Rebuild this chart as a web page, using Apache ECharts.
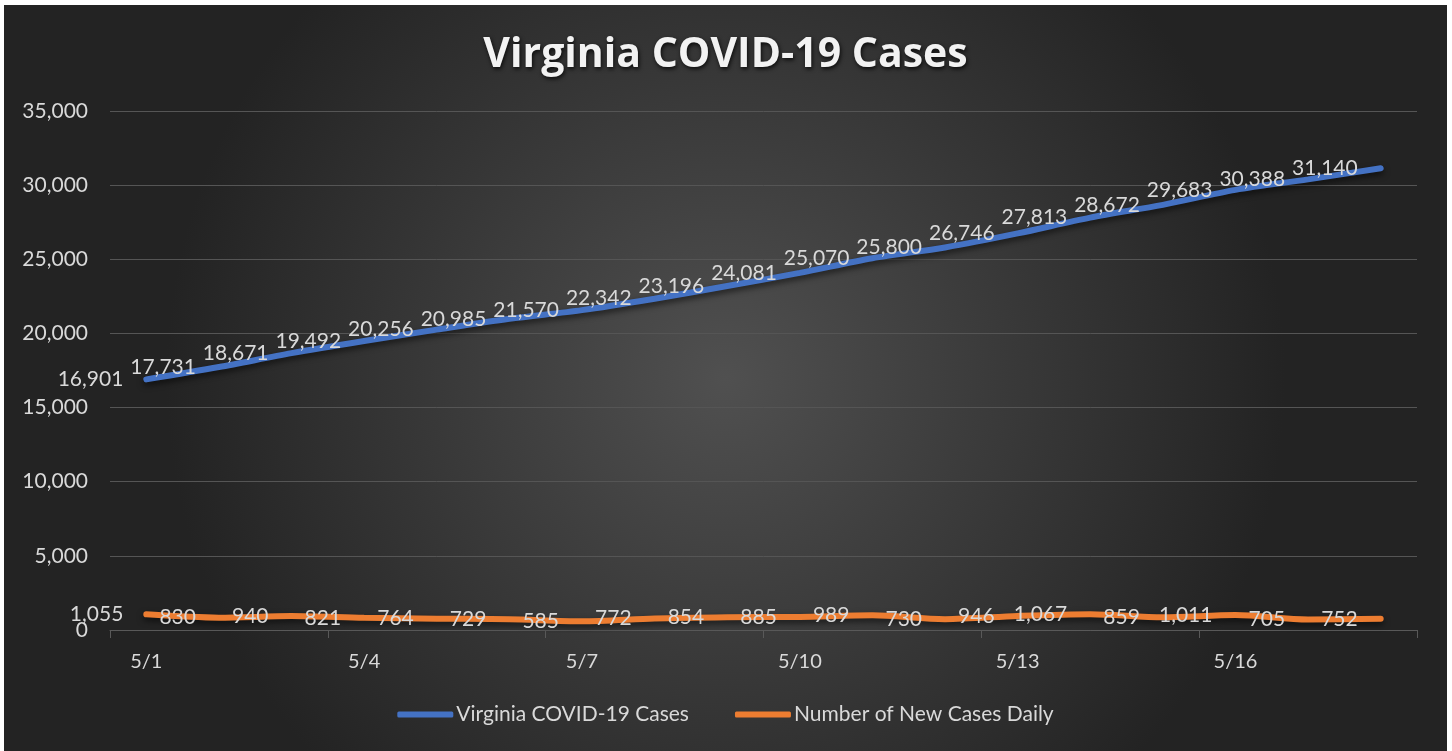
<!DOCTYPE html>
<html>
<head>
<meta charset="utf-8">
<script src="https://cdn.jsdelivr.net/npm/echarts@6/dist/echarts.min.js"></script>
<style>
html,body{margin:0;padding:0;background:#ffffff;width:1452px;height:751px;overflow:hidden;}
#chart{position:absolute;left:4px;top:5px;width:1443px;height:746px;}
</style>
</head>
<body>
<div id="chart"></div>
<script>
const categories = ['5/1','5/2','5/3','5/4','5/5','5/6','5/7','5/8','5/9','5/10','5/11','5/12','5/13','5/14','5/15','5/16','5/17','5/18'];
const totalCases = [16901,17731,18671,19492,20256,20985,21570,22342,23196,24081,25070,25800,26746,27813,28672,29683,30388,31140];
const newCases = [1055,830,940,821,764,729,585,772,854,885,989,730,946,1067,859,1011,705,752];
const yTicks = [0,5000,10000,15000,20000,25000,30000,35000];

const FONT = 'Lato, "Open Sans", sans-serif';
const fmt = v => v.toLocaleString('en-US');

const chart = echarts.init(document.getElementById('chart'));
function labelStyle(dy) {
  return {
    show: true,
    position: 'left',
    distance: 22,
    offset: [0, dy],
    color: '#d9d9d9',
    fontFamily: FONT,
    fontSize: 21,
    formatter: p => fmt(p.value)
  };
}
chart.setOption({
  backgroundColor: {
    type: 'radial', x: 0.5, y: 0.5, r: 0.75,
    colorStops: [{offset: 0, color: '#505050'}, {offset: 1, color: '#232323'}]
  },
  title: {
    text: 'Virginia COVID-19 Cases',
    left: 'center',
    top: 25,
    textStyle: {
      color: '#f2f2f2', fontFamily: '"Open Sans", Lato, sans-serif', fontWeight: 'bold', fontSize: 41,
      textShadowColor: 'rgba(0,0,0,0.8)', textShadowBlur: 4, textShadowOffsetX: 1, textShadowOffsetY: 2
    }
  },
  legend: {
    bottom: 21,
    left: 'center',
    itemWidth: 56,
    itemHeight: 6,
    itemGap: 46,
    icon: 'roundRect',
    textStyle: {color: '#d9d9d9', fontFamily: FONT, fontSize: 21, padding: [0,0,0,-2]},
    data: ['Virginia COVID-19 Cases', 'Number of New Cases Daily']
  },
  grid: {left: 106, right: 30, top: 106, bottom: 121, containLabel: false},
  xAxis: {
    type: 'category',
    data: categories,
    boundaryGap: true,
    axisLine: {lineStyle: {color: '#595959', width: 1}},
    axisTick: {show: true, interval: 2, length: 8, lineStyle: {color: '#595959'}},
    axisLabel: {interval: 2, color: '#d9d9d9', fontFamily: FONT, fontSize: 20, margin: 22},
    splitLine: {show: false}
  },
  yAxis: {
    type: 'value',
    min: yTicks[0],
    max: yTicks[yTicks.length - 1],
    interval: 5000,
    axisLine: {show: false},
    axisTick: {show: false},
    axisLabel: {color: '#d9d9d9', fontFamily: FONT, fontSize: 21, margin: 22, formatter: v => fmt(v)},
    splitLine: {lineStyle: {color: '#555555', width: 1}}
  },
  series: [
    {
      name: 'Virginia COVID-19 Cases',
      type: 'line',
      data: totalCases,
      smooth: 0.3,
      symbol: 'circle',
      symbolSize: 2,
      showSymbol: true,
      color: '#4472c4',
      itemStyle: {color: '#4472c4'},
      lineStyle: {width: 6, color: '#4472c4', cap: 'round', shadowColor: 'rgba(0,0,0,0.6)', shadowBlur: 6, shadowOffsetY: 3},
      label: labelStyle(0),
      labelLayout: {hideOverlap: false},
      z: 3
    },
    {
      name: 'Number of New Cases Daily',
      type: 'line',
      data: newCases,
      smooth: 0.3,
      symbol: 'circle',
      symbolSize: 2,
      showSymbol: true,
      color: '#ed7d31',
      itemStyle: {color: '#ed7d31'},
      lineStyle: {width: 6, color: '#ed7d31', cap: 'round', shadowColor: 'rgba(0,0,0,0.6)', shadowBlur: 6, shadowOffsetY: 3},
      label: labelStyle(3),
      labelLayout: {hideOverlap: false},
      z: 3
    }
  ],
  animation: false
});
</script>
</body>
</html>
